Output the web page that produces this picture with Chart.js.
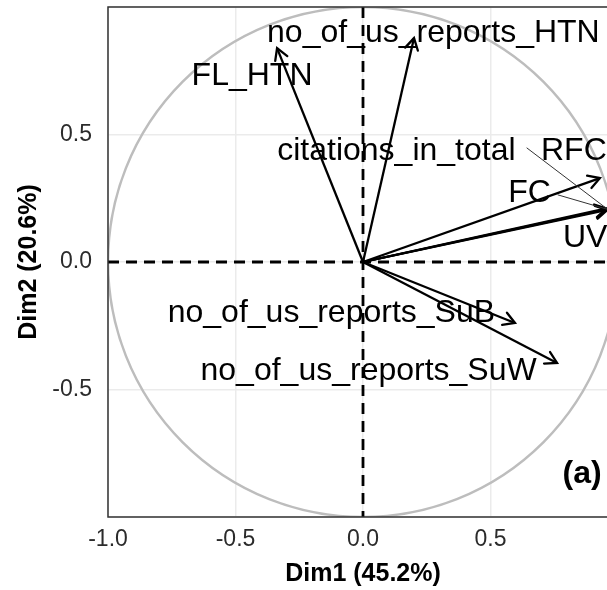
<!DOCTYPE html>
<html>
<head>
<meta charset="utf-8">
<script src="https://cdn.jsdelivr.net/npm/chart.js@4.4.0/dist/chart.umd.min.js"></script>
<style>
  html, body { margin: 0; padding: 0; background: #fff; overflow: hidden; }
  #wrap { width: 607px; height: 590px; overflow: hidden; }
</style>
</head>
<body>
<div id="wrap"><canvas id="pcaChart" width="625" height="590"></canvas></div>
<script>
// PCA variable coordinates
const varNames = ['no_of_us_reports_HTN', 'FL_HTN', 'citations_in_total', 'RFC', 'FC', 'UV',
                  'no_of_us_reports_SuB', 'no_of_us_reports_SuW'];
const dim1 = [0.200, -0.337, 0.955, 0.929, 0.957, 0.958, 0.596, 0.761];
const dim2 = [0.878, 0.839, 0.210, 0.329, 0.207, 0.204, -0.239, -0.396];
const xTicks = [-1.0, -0.5, 0.0, 0.5];
const yTicks = [-0.5, 0.0, 0.5];

const FONT = "'Liberation Sans', Arial, Helvetica, sans-serif";

// where the repelled labels sit (data units: text centre x, baseline y)
const labelAt = [[0.276, 0.863], [-0.435, 0.694], [0.131, 0.400], [0.827, 0.400],
                 [0.653, 0.235], [0.871, 0.059], [-0.124, -0.235], [0.022, -0.463]];
// leader segments for labels pushed away from their point
const leaders = { 2: [0.643, 0.447], 4: [0.765, 0.263] };

const datasets = varNames.map((name, i) => ({
    label: name,
    data: [{ x: 0, y: 0 }, { x: dim1[i], y: dim2[i] }],
    showLine: true,
    borderColor: '#000',
    borderWidth: 2.3,
    pointRadius: 0,
    fill: false
}));

// no extra room for overhanging tick labels
function noPad(s) {
    s.paddingLeft = 0; s.paddingRight = 0; s.paddingTop = 0; s.paddingBottom = 0;
}

const pcaPlugin = {
    id: 'pcaPlugin',
    beforeDatasetsDraw(chart) {
        const { ctx, chartArea: a, scales: { x, y } } = chart;
        const cx = x.getPixelForValue(0), cy = y.getPixelForValue(0);
        ctx.save();
        ctx.beginPath();
        ctx.rect(a.left, a.top, a.right - a.left, a.bottom - a.top);
        ctx.clip();
        // correlation circle
        ctx.beginPath();
        ctx.strokeStyle = '#bdbdbd';
        ctx.lineWidth = 2.5;
        ctx.arc(cx, cy, x.getPixelForValue(1) - cx, 0, Math.PI * 2);
        ctx.stroke();
        // dashed zero lines
        ctx.setLineDash([11, 7]);
        ctx.strokeStyle = '#000';
        ctx.lineWidth = 2.8;
        ctx.beginPath();
        ctx.moveTo(a.left, cy); ctx.lineTo(a.right, cy);
        ctx.moveTo(cx, a.top); ctx.lineTo(cx, a.bottom);
        ctx.stroke();
        ctx.restore();
    },
    afterDatasetsDraw(chart) {
        const { ctx, scales: { x, y } } = chart;
        const ox = x.getPixelForValue(0), oy = y.getPixelForValue(0);
        ctx.save();
        // open arrow heads
        ctx.strokeStyle = '#000';
        ctx.lineWidth = 2.3;
        ctx.lineCap = 'round';
        dim1.forEach((v, i) => {
            const tx = x.getPixelForValue(v), ty = y.getPixelForValue(dim2[i]);
            const ang = Math.atan2(ty - oy, tx - ox);
            const L = 13;
            ctx.beginPath();
            ctx.moveTo(tx - L * Math.cos(ang - Math.PI / 6), ty - L * Math.sin(ang - Math.PI / 6));
            ctx.lineTo(tx, ty);
            ctx.lineTo(tx - L * Math.cos(ang + Math.PI / 6), ty - L * Math.sin(ang + Math.PI / 6));
            ctx.stroke();
        });
        // leader segments
        ctx.lineWidth = 1;
        ctx.strokeStyle = '#333';
        Object.keys(leaders).forEach(k => {
            const p = leaders[k];
            ctx.beginPath();
            ctx.moveTo(x.getPixelForValue(p[0]), y.getPixelForValue(p[1]));
            ctx.lineTo(x.getPixelForValue(dim1[k]), y.getPixelForValue(dim2[k]));
            ctx.stroke();
        });
        // variable labels
        ctx.fillStyle = '#000';
        ctx.font = '32px ' + FONT;
        ctx.textAlign = 'center';
        ctx.textBaseline = 'alphabetic';
        varNames.forEach((name, i) => {
            ctx.fillText(name, x.getPixelForValue(labelAt[i][0]), y.getPixelForValue(labelAt[i][1]));
        });
        // panel tag
        ctx.font = 'bold 32px ' + FONT;
        ctx.textBaseline = 'middle';
        ctx.fillText('(a)', x.getPixelForValue(0.859), y.getPixelForValue(-0.831));
        ctx.restore();
    },
    afterDraw(chart) {
        const { ctx, chartArea: a } = chart;
        ctx.save();
        ctx.strokeStyle = '#333';
        ctx.lineWidth = 1.5;
        ctx.strokeRect(a.left, a.top, a.right - a.left, a.bottom - a.top);
        ctx.restore();
    }
};

new Chart(document.getElementById('pcaChart').getContext('2d'), {
    type: 'scatter',
    data: { datasets: datasets },
    plugins: [pcaPlugin],
    options: {
        responsive: false,
        animation: false,
        layout: { padding: { left: 0, top: 7, right: 7, bottom: 0 } },
        plugins: { legend: { display: false }, tooltip: { enabled: false } },
        scales: {
            x: {
                type: 'linear', min: -1, max: 1,
                afterBuildTicks: s => { s.ticks = xTicks.concat([1]).map(v => ({ value: v })); },
                afterFit: s => { s.height = 73; noPad(s); },
                ticks: {
                    callback: v => (xTicks.includes(v) ? Number(v).toFixed(1) : ''),
                    font: { family: FONT, size: 23 }, color: '#2b2b2b', padding: 9,
                    maxRotation: 0, autoSkip: false
                },
                grid: { color: '#ebebeb', lineWidth: 1.5, drawTicks: false },
                border: { display: false },
                title: {
                    display: true, text: 'Dim1 (45.2%)', color: '#000',
                    font: { family: FONT, size: 25, weight: 'bold' },
                    padding: { top: 0, bottom: 1 }
                }
            },
            y: {
                type: 'linear', min: -1, max: 1,
                afterBuildTicks: s => { s.ticks = [-1].concat(yTicks, [1]).map(v => ({ value: v })); },
                afterFit: s => { s.width = 108; noPad(s); },
                ticks: {
                    callback: v => (yTicks.includes(v) ? Number(v).toFixed(1) : ''),
                    font: { family: FONT, size: 23 }, color: '#2b2b2b', padding: 16,
                    autoSkip: false
                },
                grid: { color: '#ebebeb', lineWidth: 1.5, drawTicks: false },
                border: { display: false },
                title: {
                    display: true, text: 'Dim2 (20.6%)', color: '#000',
                    font: { family: FONT, size: 25, weight: 'bold' },
                    padding: { top: 14, bottom: 0 }
                }
            }
        }
    }
});
</script>
</body>
</html>
